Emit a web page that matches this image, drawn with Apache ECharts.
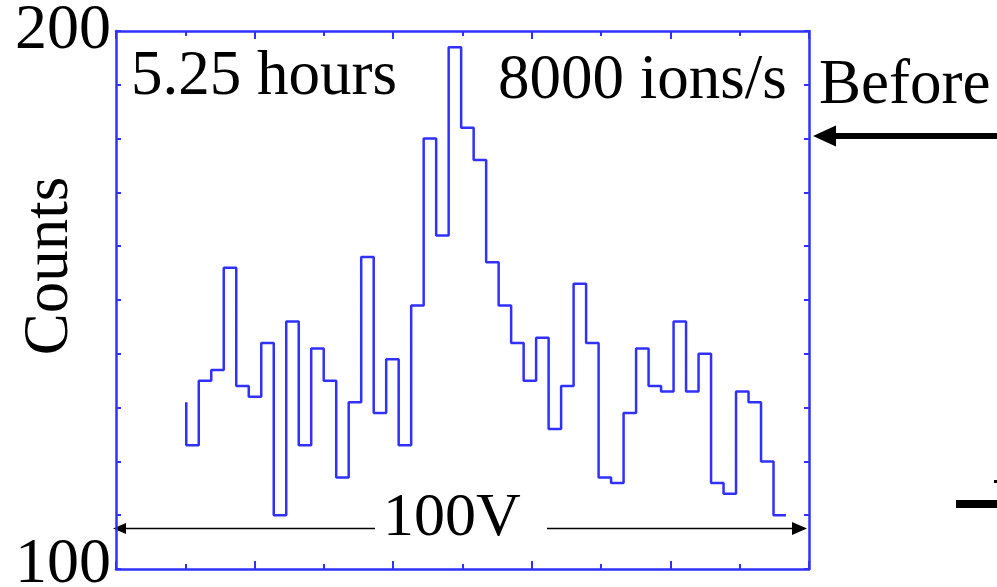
<!DOCTYPE html>
<html>
<head>
<meta charset="utf-8">
<title>Counts histogram</title>
<script src="https://cdn.jsdelivr.net/npm/echarts@6/dist/echarts.min.js"></script>
<style>
  html, body {
    margin: 0;
    padding: 0;
    background: #fff;
  }
  #main {
    width: 997px;
    height: 587px;
  }
</style>
</head>
<body>
<div id="main"></div>
<script>
// histogram counts, first value is the level where the trace starts
const counts = [
  131, 123, 135, 137, 156, 134, 132, 142, 110, 146,
  123, 141, 135, 117, 131, 158, 129, 139, 123, 149,
  180, 162, 197, 182, 176, 157, 149, 142, 135, 143,
  126, 134, 153, 142, 117, 116, 129, 141, 134, 133,
  146, 133, 140, 116, 114, 133, 131, 120, 110
];
// bin edges in volts (axis spans 100 V)
const binStart = 10.14;
const binWidth = 1.803;
const yTickLabels = [100, 200];

const FONT = "'Liberation Serif', 'Times New Roman', serif";
const BLUE = '#3030ff';

const stepData = counts.map((c, i) => [binStart + i * binWidth, c]);

const myChart = echarts.init(document.getElementById('main'));

// shared x axis look (frame bottom / top)
function xAxisCfg(pos) {
  return {
    type: 'value',
    position: pos,
    min: 0,
    max: 100,
    interval: 20,
    axisLine: { show: true, onZero: false, lineStyle: { color: BLUE, width: 2.5 } },
    axisTick: { show: true, inside: true, length: 8, lineStyle: { color: BLUE, width: 2 } },
    minorTick: { show: true, splitNumber: 2, length: 5, lineStyle: { color: BLUE, width: 2 } },
    axisLabel: { show: false },
    splitLine: { show: false },
    minorSplitLine: { show: false }
  };
}

const option = {
  backgroundColor: '#fff',
  animation: false,
  grid: {
    left: 116,
    top: 31,
    right: 188,
    bottom: 18,
    containLabel: false,
    outerBoundsMode: 'none'
  },
  xAxis: [xAxisCfg('bottom'), xAxisCfg('top')],
  yAxis: [
    {
      type: 'value',
      position: 'left',
      min: 100,
      max: 200,
      interval: 10,
      name: 'Counts',
      nameLocation: 'middle',
      nameGap: 34,
      nameRotate: 90,
      nameMoveOverlap: false,
      nameTextStyle: {
        fontFamily: FONT,
        fontSize: 63,
        color: '#000',
        padding: [0, 0, 0, 68]
      },
      axisLine: { show: true, onZero: false, lineStyle: { color: BLUE, width: 2.5 } },
      axisTick: { show: true, inside: true, length: 5, lineStyle: { color: BLUE, width: 2 } },
      axisLabel: {
        show: true,
        margin: 5,
        fontFamily: FONT,
        fontSize: 64,
        color: '#000',
        formatter: function (v) {
          if (v === yTickLabels[0]) return '{lo|' + v + '}';
          if (v === yTickLabels[1]) return '{hi|' + v + '}';
          return '';
        },
        rich: {
          lo: { fontFamily: FONT, fontSize: 64, color: '#000', padding: [0, 0, 8, 0] },
          hi: { fontFamily: FONT, fontSize: 64, color: '#000' }
        }
      },
      splitLine: { show: false }
    },
    {
      type: 'value',
      position: 'right',
      min: 100,
      max: 200,
      interval: 10,
      axisLine: { show: true, onZero: false, lineStyle: { color: BLUE, width: 2.5 } },
      axisTick: { show: true, inside: true, length: 5, lineStyle: { color: BLUE, width: 2 } },
      axisLabel: { show: false },
      splitLine: { show: false }
    }
  ],
  series: [
    {
      type: 'line',
      step: 'start',
      showSymbol: false,
      xAxisIndex: 0,
      yAxisIndex: 0,
      lineStyle: { color: BLUE, width: 2.5 },
      data: stepData
    }
  ],
  // annotations
  graphic: [
    {
      type: 'text', left: 131, top: 78 - 32,
      style: { text: '5.25 hours', fontFamily: FONT, fontSize: 63, fill: '#000' }
    },
    {
      type: 'text', left: 498, top: 82 - 32,
      style: { text: '8000 ions/s', fontFamily: FONT, fontSize: 63, fill: '#000' }
    },
    {
      type: 'text', left: 819, top: 87 - 32,
      style: { text: 'Before', fontFamily: FONT, fontSize: 63, fill: '#000' }
    },
    {
      type: 'text', left: 383, top: 519 - 31,
      style: { text: '100V', fontFamily: FONT, fontSize: 62, fill: '#000' }
    },
    // "Before" arrow
    {
      type: 'line',
      shape: { x1: 834, y1: 136, x2: 997, y2: 136 },
      style: { stroke: '#000', lineWidth: 6 }
    },
    {
      type: 'polygon',
      shape: { points: [[813, 136], [836, 125.5], [836, 146.5]] },
      style: { fill: '#000' }
    },
    // 100V arrows
    {
      type: 'line',
      shape: { x1: 124, y1: 528.5, x2: 375, y2: 528.5 },
      style: { stroke: '#000', lineWidth: 1.5 }
    },
    {
      type: 'polygon',
      shape: { points: [[113, 528.5], [126, 523], [126, 534]] },
      style: { fill: '#000' }
    },
    {
      type: 'line',
      shape: { x1: 547, y1: 528.5, x2: 795, y2: 528.5 },
      style: { stroke: '#000', lineWidth: 1.5 }
    },
    {
      type: 'polygon',
      shape: { points: [[807, 528.5], [792, 522], [792, 535]] },
      style: { fill: '#000' }
    },
    // bits of the neighbouring panel
    {
      type: 'rect',
      shape: { x: 956, y: 500, width: 41, height: 8 },
      style: { fill: '#000' }
    },
    {
      type: 'rect',
      shape: { x: 994, y: 480, width: 3, height: 3 },
      style: { fill: '#000' }
    }
  ]
};

myChart.setOption(option);
</script>
</body>
</html>
